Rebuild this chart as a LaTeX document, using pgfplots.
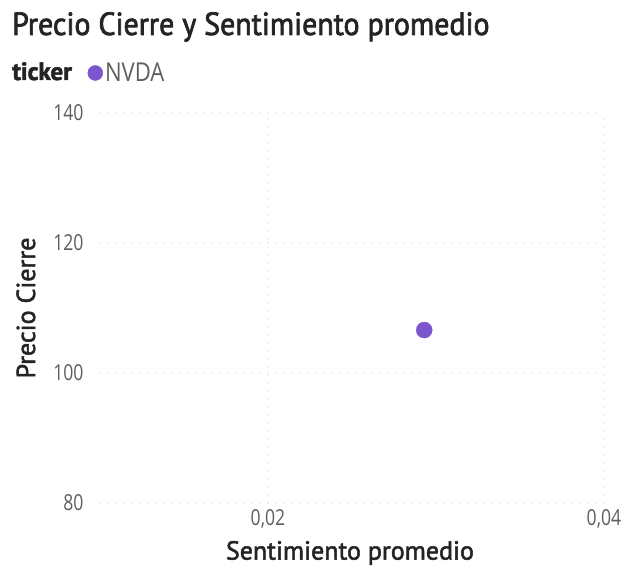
\documentclass[border=0pt]{standalone}
\usepackage{pgfplots}
\pgfplotsset{compat=1.18}
\usepackage{fontspec}
\setmainfont{Open Sans}
\newfontfamily\headfont[FakeBold=2.2, FakeStretch=0.935]{PT Sans}
\newfontfamily\titlefont[FakeBold=2]{PT Sans}
\newfontfamily\tickfont[FakeStretch=0.8]{Open Sans}
\newfontfamily\legfont[FakeStretch=0.85]{Open Sans}

\definecolor{titlegray}{HTML}{252423}
\definecolor{tickgray}{HTML}{605E5C}
\definecolor{gridgray}{HTML}{C8C6C4}
\definecolor{nvda}{HTML}{7C56CC}

\pgfplotstableread{
sent price
0.0293 106.6
}\nvdadata

\begin{document}
\begin{tikzpicture}[x=1pt,y=1pt]
  % page frame
  \path (0,0) rectangle (625,572);
  % title
  \node[anchor=base west, inner sep=0, text=titlegray,
        font=\headfont\fontsize{32}{34}\selectfont]
        at (12,537) {Precio Cierre y Sentimiento promedio};
  % legend title
  \node[anchor=base west, inner sep=0, text=titlegray,
        font=\titlefont\bfseries\fontsize{25}{27}\selectfont]
        at (12,492) {ticker};
  \begin{axis}[
    at={(100pt,69pt)}, anchor=south west,
    scale only axis, width=504pt, height=390pt,
    xmin=0.01, xmax=0.04, ymin=80, ymax=140,
    xtick={0.02,0.04}, ytick={80,100,120,140},
    scaled x ticks=false, scaled y ticks=false,
    axis line style={draw=none},
    tick style={draw=none},
    grid=major,
    major grid style={gridgray, line width=1.2pt, line cap=round,
                      dash pattern=on 0pt off 8pt},
    xticklabel={\pgfmathprintnumber[fixed, fixed zerofill, precision=2,
                use comma, assume math mode=true]{\tick}},
    yticklabel={\pgfmathprintnumber[fixed, precision=0,
                assume math mode=true]{\tick}},
    x tick label style={font=\tickfont\fontsize{22}{24}\selectfont,
                        text=tickgray, anchor=center,
                        yshift=-16pt},
    y tick label style={font=\tickfont\fontsize{22}{24}\selectfont,
                        text=tickgray, anchor=east, xshift=-13pt},
    xlabel={Sentimiento promedio},
    ylabel={Precio Cierre},
    label style={font=\titlefont\fontsize{26}{28}\selectfont,
                 text=titlegray},
    xlabel style={at={(axis description cs:0.496,-0.128)}, anchor=center},
    ylabel style={at={(axis description cs:-0.147,0.5)}, anchor=center,
                  rotate=0},
    legend style={draw=none, fill=none, at={(-0.025,1.1026)}, anchor=west,
                  font=\legfont\fontsize{26}{28}\selectfont, text=tickgray,
                  inner sep=0pt},
    legend cell align=left,
    legend image code/.code={\fill[nvda] (6pt,0pt) circle (7.5pt);},
  ]
    \addplot[only marks, mark=*, mark size=8pt, nvda,
             mark options={draw=none, fill=nvda}]
      table[x=sent, y=price] {\nvdadata};
    \addlegendentry{NVDA}
  \end{axis}
\end{tikzpicture}
\end{document}
